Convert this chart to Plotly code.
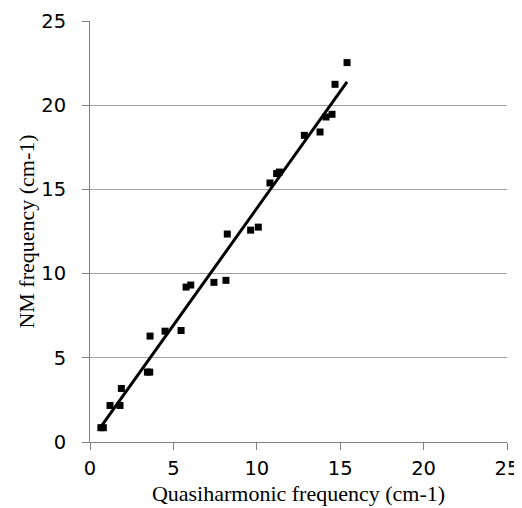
import numpy as np
import plotly.graph_objects as go

# Data
qh_freq = [0.65, 0.80, 1.20, 1.80, 1.88, 3.44, 3.58, 3.60, 4.50, 5.46,
           5.76, 6.04, 7.43, 8.15, 8.23, 9.63, 10.09, 10.79, 11.19, 11.35,
           12.85, 13.79, 14.15, 14.51, 14.69, 15.41]
nm_freq = [0.85, 0.85, 2.17, 2.17, 3.18, 4.15, 4.15, 6.29, 6.58, 6.62,
           9.20, 9.32, 9.48, 9.60, 12.35, 12.58, 12.76, 15.38, 15.94, 16.03,
           18.21, 18.41, 19.30, 19.46, 21.24, 22.53]
tick_vals = [0, 5, 10, 15, 20, 25]

# Linear trendline (least squares)
slope, intercept = np.polyfit(qh_freq, nm_freq, 1)
fit_x = [min(qh_freq), max(qh_freq)]
fit_y = [slope * v + intercept for v in fit_x]

fig = go.Figure()
fig.add_trace(go.Scatter(x=fit_x, y=fit_y, mode="lines",
                         line=dict(color="black", width=3), hoverinfo="skip"))
fig.add_trace(go.Scatter(x=qh_freq, y=nm_freq, mode="markers",
                         marker=dict(symbol="square", size=7, color="black")))

fig.update_layout(
    width=522, height=508,
    margin=dict(l=82, r=23, t=13, b=74),
    paper_bgcolor="white", plot_bgcolor="white",
    showlegend=False,
    font=dict(family="DejaVu Sans", color="black"),
)
fig.update_xaxes(
    range=[0, 25], tickvals=tick_vals, showgrid=False, zeroline=False,
    automargin=False,
    showline=True, linecolor="#808080", linewidth=1,
    ticks="outside", ticklen=7, tickcolor="#808080",
    ticklabelstandoff=2,
    tickfont=dict(family="DejaVu Sans", size=19.5, color="black"),
    title=dict(text="Quasiharmonic frequency (cm-1)",
               font=dict(family="Liberation Serif", size=22, color="black"),
               standoff=6),
)
fig.update_yaxes(
    range=[0, 25], tickvals=tick_vals, showgrid=True, gridcolor="#a0a0a0",
    gridwidth=1, zeroline=False,
    automargin=False,
    showline=True, linecolor="#808080", linewidth=1,
    ticks="outside", ticklen=7, tickcolor="#808080",
    ticklabelstandoff=12,
    tickfont=dict(family="DejaVu Sans", size=19.5, color="black"),
    title=dict(text="NM frequency (cm-1)",
               font=dict(family="Liberation Serif", size=22, color="black"),
               standoff=0),
)

fig.write_html("out.html")
